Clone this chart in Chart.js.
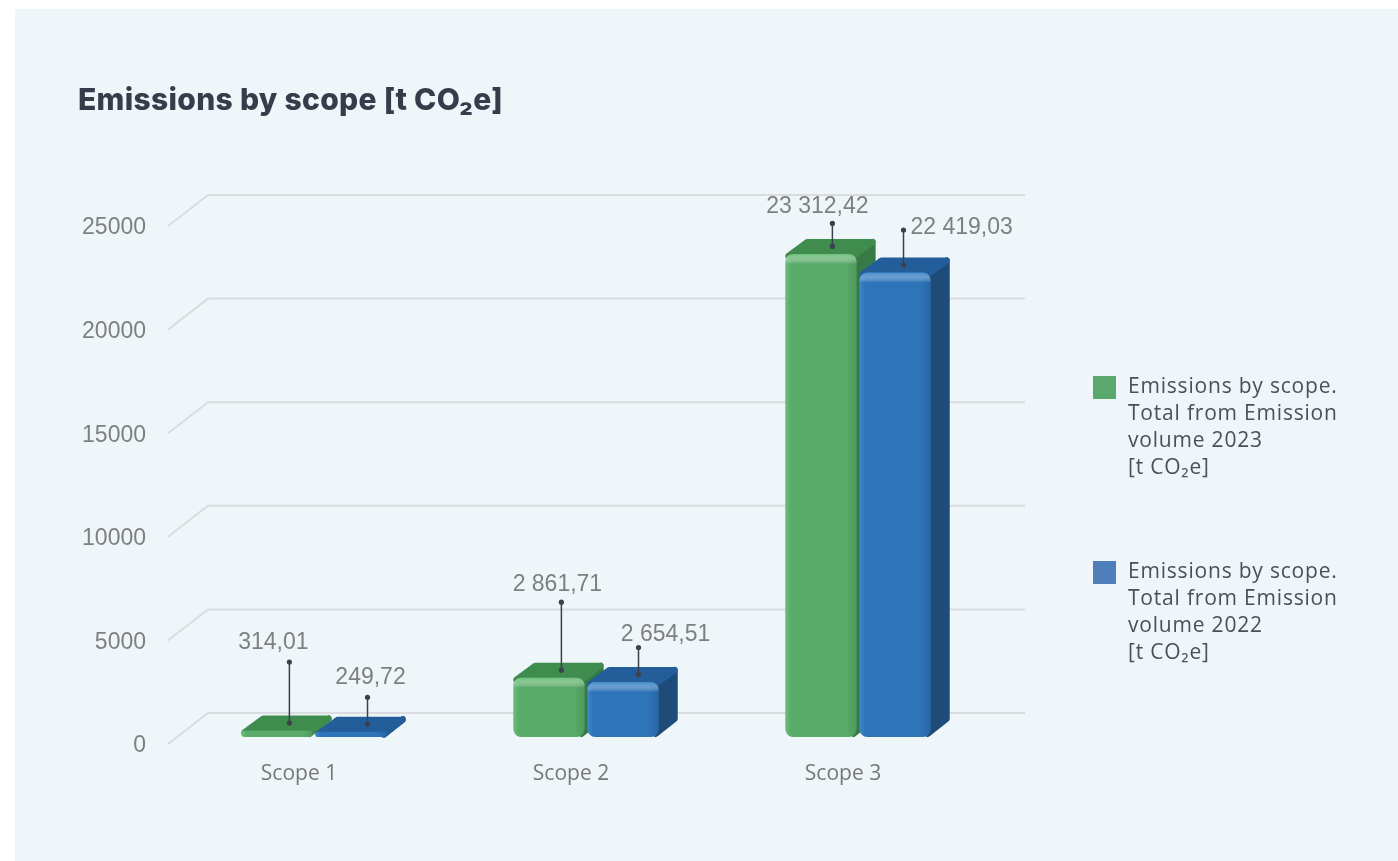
<!DOCTYPE html>
<html>
<head>
<meta charset="utf-8">
<script src="https://cdn.jsdelivr.net/npm/chart.js@4.4.1/dist/chart.umd.min.js"></script>
<style>
  html, body { margin: 0; padding: 0; background: #ffffff; }
  body { width: 1398px; height: 861px; position: relative; overflow: hidden; }
  #panel { position: absolute; left: 15px; top: 9px; width: 1383px; height: 852px; background: #eef6fa; }
  #wrap { position: absolute; left: 0; top: 0; width: 1383px; height: 852px; }
  #title { position: absolute; left: 63px; top: 72px; margin: 0; font: 800 30px "Inter", sans-serif; color: #363c4a; letter-spacing: 0.3px; }
</style>
</head>
<body>
<div id="panel">
  <div id="wrap"><canvas id="grafico" width="1383" height="852"></canvas></div>
  <h2 id="title">Emissions by scope [t CO₂e]</h2>
</div>
<script>
// ==================== datos ====================
const categories = ["Scope 1", "Scope 2", "Scope 3"];
const values2023 = [314.01, 2861.71, 23312.42];
const values2022 = [249.72, 2654.51, 22419.03];
const yTicks = [0, 5000, 10000, 15000, 20000, 25000];
const legend2023 = ["Emissions by scope.", "Total from Emission", "volume 2023", "[t CO₂e]"];
const legend2022 = ["Emissions by scope.", "Total from Emission", "volume 2022", "[t CO₂e]"];

// ==================== estilo ====================
const depthX = 19, depthY = -15;          // profundidad de las barras 3D
const palettes = [
  { front: "#5aaa69", light: "#6dbf7b", dark: "#4e9a5d", top: "#3f8c4e", side: "#377a45", legend: "#5aa86c" },
  { front: "#2e74b8", light: "#3e88cb", dark: "#2866a4", top: "#235e9a", side: "#1e4b78", legend: "#4f7fba" }
];
// linea guia: desplazamiento, largo y posicion de la etiqueta (por serie, por categoria)
const leaders = [
  [{ ox: 2, len: 61, dx: -16, dy: -19, align: "center" }, { ox: 2, len: 68, dx: -4, dy: -18, align: "center" }, { ox: 1, len: 23, dx: -15, dy: -17, align: "center" }],
  [{ ox: 6, len: 27, dx: 3, dy: -20, align: "center" }, { ox: 5, len: 27, dx: 27, dy: -13, align: "center" }, { ox: -2, len: 35, dx: 7, dy: -2, align: "left" }]
];

function fmt(v) {
  const [ent, dec] = v.toFixed(2).split(".");
  return ent.replace(/\B(?=(\d{3})+(?!\d))/g, " ") + "," + dec;
}

// rejilla en perspectiva
const grid3d = {
  id: "grid3d",
  beforeDatasetsDraw(chart) {
    const { ctx, chartArea: a, scales: { y } } = chart;
    ctx.save();
    ctx.lineWidth = 2;
    y.ticks.forEach(t => {
      const py = y.getPixelForValue(t.value);
      ctx.strokeStyle = "#dadddf";
      ctx.beginPath();
      ctx.moveTo(a.left - 10, py + 7);
      ctx.lineTo(a.left + 30, py - 24);
      ctx.lineTo(a.right + 31, py - 24);
      ctx.stroke();
    });
    ctx.restore();
  }
};

function poly(ctx, pts, color, lw) {
  ctx.beginPath();
  pts.forEach((p, i) => (i ? ctx.lineTo(p[0], p[1]) : ctx.moveTo(p[0], p[1])));
  ctx.closePath();
  ctx.fillStyle = color;
  ctx.strokeStyle = color;
  ctx.lineWidth = lw;
  ctx.lineJoin = "round";
  ctx.fill();
  ctx.stroke();
}

function drawBox(ctx, el, pal) {
  const l = el.x - el.width / 2 + 1, r = el.x + el.width / 2 - 1;
  const t = el.y, b = el.base;
  const h = b - t;
  // lateral
  poly(ctx, [[r - 3, t + 3], [r + depthX - 3, t + depthY + 3], [r + depthX - 3, b + depthY - 3], [r - 3, b - 3]], pal.side, 6);
  // tapa
  poly(ctx, [[l + 3, t + 2], [l + depthX + 3, t + depthY + 3], [r + depthX - 3, t + depthY + 3], [r - 3, t + 2]], pal.top, 6);
  // frente
  const g = ctx.createLinearGradient(l, 0, r, 0);
  g.addColorStop(0, pal.light);
  g.addColorStop(0.08, pal.front);
  g.addColorStop(0.85, pal.front);
  g.addColorStop(1, pal.dark);
  ctx.fillStyle = g;
  ctx.beginPath();
  ctx.roundRect(l, t, r - l, h, Math.min(8, h / 2));
  ctx.fill();
  if (h > 12) {
    const gt = ctx.createLinearGradient(0, t, 0, t + 10);
    gt.addColorStop(0, pal.light);
    gt.addColorStop(1, "rgba(255,255,255,0)");
    ctx.fillStyle = gt;
    ctx.beginPath();
    ctx.roundRect(l, t, r - l, 10, [8, 8, 0, 0]);
    ctx.fill();
  }
}

const bars3d = {
  id: "bars3d",
  beforeDatasetDraw() { return false; },
  afterDatasetsDraw(chart) {
    const ctx = chart.ctx;
    const metas = chart.data.datasets.map((d, i) => chart.getDatasetMeta(i));
    ctx.save();
    categories.forEach((c, i) => {
      metas.forEach((m, d) => drawBox(ctx, m.data[i], palettes[d]));
    });
    // lineas guia y valores
    metas.forEach((m, d) => {
      m.data.forEach((el, i) => {
        const L = leaders[d][i];
        const px = el.x + depthX * 0.55 + L.ox;
        const py1 = el.y + depthY * 0.5;
        const py0 = py1 - L.len;
        ctx.strokeStyle = "#3b404c";
        ctx.fillStyle = "#3b404c";
        ctx.lineWidth = 1.5;
        ctx.beginPath();
        ctx.moveTo(px, py0);
        ctx.lineTo(px, py1);
        ctx.stroke();
        [py0, py1].forEach(yy => { ctx.beginPath(); ctx.arc(px, yy, 2.6, 0, Math.PI * 2); ctx.fill(); });
        ctx.font = '23px "Liberation Sans", Arial, sans-serif';
        ctx.fillStyle = "#7f7f7f";
        ctx.textAlign = L.align;
        ctx.textBaseline = "middle";
        ctx.fillText(fmt(chart.data.datasets[d].data[i]), px + L.dx, py0 + L.dy);
      });
    });
    ctx.restore();
  }
};

// leyenda a la derecha, en varias lineas
const legendRight = {
  id: "legendRight",
  afterDraw(chart) {
    const ctx = chart.ctx;
    ctx.save();
    chart.data.datasets.forEach((ds, k) => {
      const y0 = 367 + k * 185;
      ctx.fillStyle = palettes[k].legend;
      ctx.fillRect(1078, y0, 23, 23);
      ctx.fillStyle = "#4a4f5a";
      ctx.font = '21px "Open Sans", sans-serif';
      ctx.letterSpacing = "0.8px";
      ctx.textAlign = "left";
      ctx.textBaseline = "middle";
      ds.lines.forEach((txt, j) => ctx.fillText(txt, 1113, y0 + 11 + j * 27));
    });
    ctx.restore();
  }
};

const data = {
  labels: categories,
  datasets: [
    { label: legend2023.join(" "), lines: legend2023, data: values2023, backgroundColor: palettes[0].legend },
    { label: legend2022.join(" "), lines: legend2022, data: values2022, backgroundColor: palettes[1].legend }
  ]
};

const config = {
  type: "bar",
  data: data,
  options: {
    responsive: false,
    animation: false,
    layout: { padding: { top: 210, right: 404, left: 0, bottom: 0 } },
    datasets: { bar: { categoryPercentage: 0.545, barPercentage: 0.99 } },
    plugins: { legend: { display: false }, tooltip: { enabled: false } },
    scales: {
      y: {
        min: 0,
        max: 25000,
        afterBuildTicks: s => { s.ticks = yTicks.map(v => ({ value: v })); },
        afterFit: s => { s.width = 163; },
        grid: { display: false, drawTicks: false },
        border: { display: false },
        ticks: {
          callback: v => String(v),
          color: "#7f7f7f",
          font: { family: '"Liberation Sans", Arial, sans-serif', size: 23 },
          padding: 32,
          labelOffset: 9
        }
      },
      x: {
        afterFit: s => { s.height = 124; },
        grid: { display: false, drawTicks: false },
        border: { display: false },
        ticks: {
          color: "#777777",
          font: { family: '"Open Sans", sans-serif', size: 21 },
          padding: 24,
          labelOffset: -15
        }
      }
    }
  },
  plugins: [grid3d, bars3d, legendRight]
};

const grafico = new Chart(document.getElementById("grafico"), config);
</script>
</body>
</html>
